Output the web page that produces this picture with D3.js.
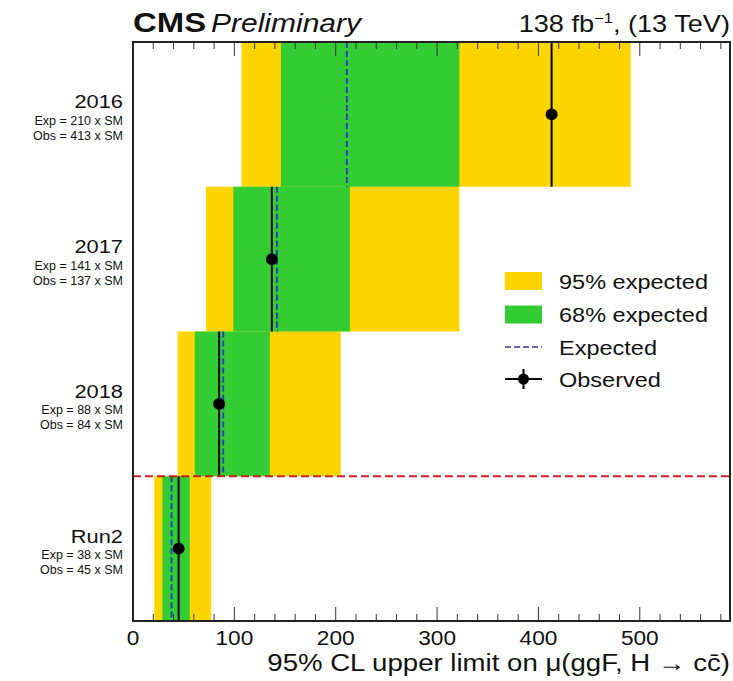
<!DOCTYPE html>
<html><head><meta charset="utf-8">
<script src="https://cdn.jsdelivr.net/npm/d3@7"></script>
<style>body{margin:0;background:#fff;} text{font-family:"Liberation Sans",Arial,sans-serif;fill:#111;}</style>
</head><body>
<svg id="c" width="733" height="681"></svg>
<script>
const categories = ["2016","2017","2018","Run2"];
const expText = ["Exp = 210 x SM","Exp = 141 x SM","Exp = 88 x SM","Exp = 38 x SM"];
const obsText = ["Obs = 413 x SM","Obs = 137 x SM","Obs = 84 x SM","Obs = 45 x SM"];
const lo95 = [107, 72, 44, 21];
const lo68 = [146, 99, 61, 29];
const expected = [211, 142, 89, 38];
const hi68 = [322, 214, 135, 56];
const hi95 = [491, 322, 205, 77];
const observed = [413, 137, 85, 45];
const xTicks = [0,100,200,300,400,500];
const legendLabels = ["95% expected","68% expected","Expected","Observed"];

const svg = d3.select("#c");
const L=133, R=730, T=42, B=621;
const x = d3.scaleLinear().domain([0,589]).range([L,R]);
const y = d3.scaleBand().domain(categories).range([T,B]).padding(0);
const yellow="#ffd500", green="#33cc33", blue="#2244bb";
const SX = 1.13;

// text with horizontal stretch
function stext(px, py, anchor, size, sx, build){
  const gg = svg.append("g").attr("transform",`translate(${px},${py}) scale(${sx},1)`);
  const t = gg.append("text").attr("x",0).attr("y",0).attr("text-anchor",anchor).attr("font-size",size);
  build(t);
  return t;
}

const g = svg.append("g");
categories.forEach((c,i)=>{
  g.append("rect").attr("x",x(lo95[i])).attr("width",x(hi95[i])-x(lo95[i])).attr("y",y(c)).attr("height",y.bandwidth()).attr("fill",yellow);
});
categories.forEach((c,i)=>{
  g.append("rect").attr("x",x(lo68[i])).attr("width",x(hi68[i])-x(lo68[i])).attr("y",y(c)).attr("height",y.bandwidth()).attr("fill",green);
});
categories.forEach((c,i)=>{
  const y0=y(c), h=y.bandwidth(), cy=y0+h/2;
  g.append("line").attr("x1",x(observed[i])).attr("x2",x(observed[i])).attr("y1",y0).attr("y2",y0+h).attr("stroke","#000").attr("stroke-width",2);
  g.append("line").attr("x1",x(expected[i])).attr("x2",x(expected[i])).attr("y1",y0).attr("y2",y0+h).attr("stroke",blue).attr("stroke-width",2).attr("stroke-dasharray","6,3");
  g.append("circle").attr("cx",x(observed[i])).attr("cy",cy).attr("r",6).attr("fill","#000");
  stext(123, cy-6, "end", 18.5, 1.18, t=>t.text(c));
  stext(123, cy+10.5, "end", 12.5, 1.0, t=>t.attr("fill","#222").text(expText[i]));
  stext(123, cy+25.5, "end", 12.5, 1.0, t=>t.attr("fill","#222").text(obsText[i]));
});
// red separator
svg.append("line").attr("x1",L).attr("x2",R).attr("y1",y("Run2")).attr("y2",y("Run2")).attr("stroke","#cc2020").attr("stroke-width",2).attr("stroke-dasharray","8,4");

// ticks
const minor = d3.range(0,589,20);
minor.forEach(v=>{
  const len = v%100===0?14:7;
  svg.append("line").attr("x1",x(v)).attr("x2",x(v)).attr("y1",B).attr("y2",B-len).attr("stroke","#333").attr("stroke-width",1);
  svg.append("line").attr("x1",x(v)).attr("x2",x(v)).attr("y1",T).attr("y2",T+len).attr("stroke","#333").attr("stroke-width",1);
});
// tick labels via axis scale
const fmt = d3.format("d");
xTicks.forEach(v=>stext(x(v), 645, "middle", 21, 1.08, t=>t.text(fmt(v))));

// frame
svg.append("rect").attr("x",L).attr("y",T).attr("width",R-L).attr("height",B-T).attr("fill","none").attr("stroke","#222").attr("stroke-width",2);

// titles
stext(133, 32, "start", 27, 1.22, t=>t.attr("font-weight","bold").text("CMS"));
stext(211, 32, "start", 25, 1.2, t=>t.attr("font-style","italic").text("Preliminary"));
stext(730, 32, "end", 23, 1.18, t=>{
  t.append("tspan").text("138 fb");
  t.append("tspan").attr("font-size",14).attr("dy",-9).text("−1");
  t.append("tspan").attr("dy",9).text(",  (13 TeV)");
});
stext(730, 671, "end", 24, 1.15, t=>t.text("95% CL upper limit on μ(ggF, H → cc̄)"));

// legend
const lg = svg.append("g");
const lx=505, lw=37;
const rows=[281,314.5,347,379];
lg.append("rect").attr("x",lx).attr("y",rows[0]-9).attr("width",lw).attr("height",18).attr("fill",yellow);
lg.append("rect").attr("x",lx).attr("y",rows[1]-9).attr("width",lw).attr("height",18).attr("fill",green);
lg.append("line").attr("x1",lx).attr("x2",lx+lw).attr("y1",rows[2]).attr("y2",rows[2]).attr("stroke","#4433aa").attr("stroke-width",1.5).attr("stroke-dasharray","6,3");
lg.append("line").attr("x1",lx).attr("x2",lx+lw).attr("y1",rows[3]).attr("y2",rows[3]).attr("stroke","#000").attr("stroke-width",2);
lg.append("line").attr("x1",lx+lw/2).attr("x2",lx+lw/2).attr("y1",rows[3]-10).attr("y2",rows[3]+10).attr("stroke","#000").attr("stroke-width",2);
lg.append("circle").attr("cx",lx+lw/2).attr("cy",rows[3]).attr("r",5.5).attr("fill","#000");
legendLabels.forEach((s,i)=>stext(559, rows[i]+7.5, "start", 21, 1.12, t=>t.text(s)));
</script>
</body></html>
